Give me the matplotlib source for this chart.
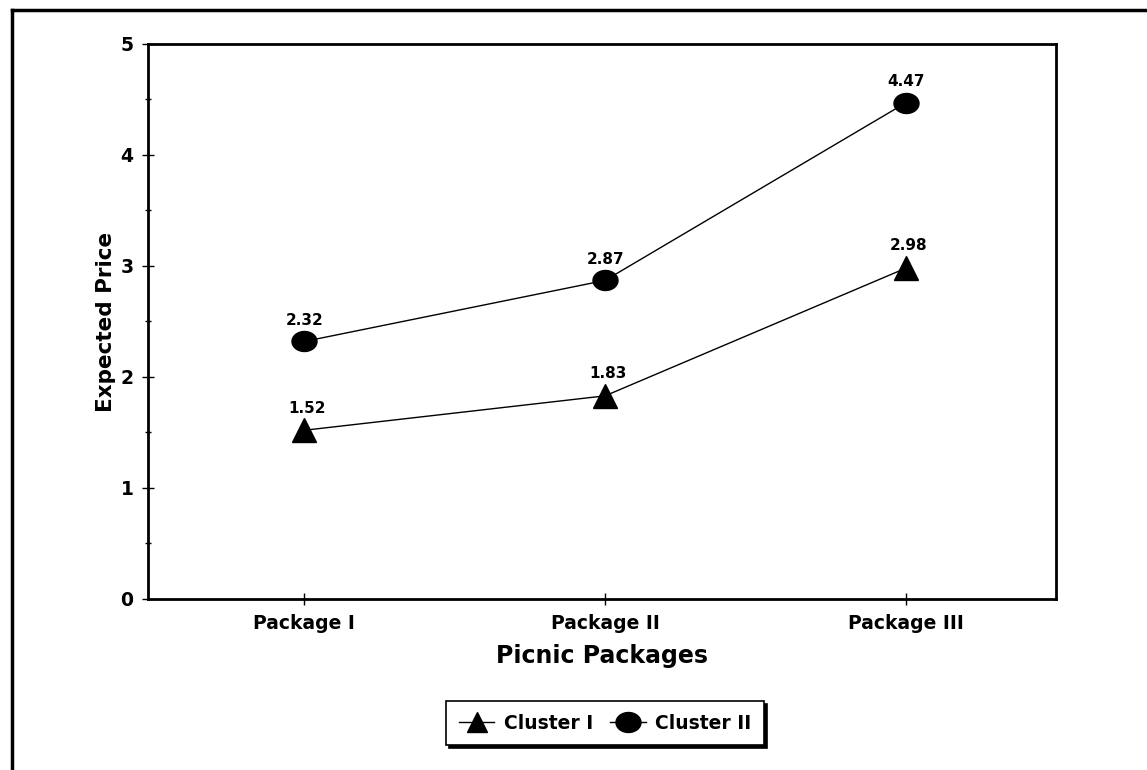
import numpy as np
import matplotlib.pyplot as plt
from matplotlib.path import Path
from matplotlib.transforms import Affine2D
from matplotlib.lines import Line2D

packages = ['Package I', 'Package II', 'Package III']
cluster1 = [1.52, 1.83, 2.98]
cluster2 = [2.32, 2.87, 4.47]
labels1 = ['1.52', '1.83', '2.98']
labels2 = ['2.32', '2.87', '4.47']

plt.rcParams['font.family'] = ['DejaVu Sans']
plt.rcParams['font.weight'] = 'bold'

# slightly wide ellipse marker like the scan
ellipse = Path.unit_circle().transformed(Affine2D().scale(1.25, 1.0))

fig = plt.figure(figsize=(11.47, 7.7), dpi=100)
ax = fig.add_axes([0.129, 0.2221, 0.7918, 0.7208])

x = np.arange(len(packages))
ax.plot(x, cluster1, color='black', lw=1, marker='^', markersize=17, zorder=3)
ax.plot(x, cluster2, color='black', lw=1, marker=ellipse, markersize=18, zorder=3)

for xi, v, t in zip(x, cluster1, labels1):
    ax.annotate(t, (xi, v), xytext=(2, 16), textcoords='offset points',
                ha='center', va='center', fontsize=11, fontweight='bold')
for xi, v, t in zip(x, cluster2, labels2):
    ax.annotate(t, (xi, v), xytext=(0, 15), textcoords='offset points',
                ha='center', va='center', fontsize=11, fontweight='bold')

ax.set_xlim(-0.52, 2.5)
ax.set_ylim(0, 5)
ax.set_xticks(x)
ax.set_xticklabels(packages, fontsize=13.5, fontweight='bold')
ax.set_yticks([0, 1, 2, 3, 4, 5])
ax.set_yticklabels(['0', '1', '2', '3', '4', '5'], fontsize=13.5, fontweight='bold')
ax.set_yticks(np.arange(0.5, 5, 1), minor=True)
ax.tick_params(axis='both', which='major', direction='inout', length=9, width=1, pad=6)
ax.tick_params(axis='y', which='minor', direction='inout', length=5, width=1)
for s in ax.spines.values():
    s.set_linewidth(2)

ax.set_xlabel('Picnic Packages', fontsize=17, fontweight='bold', labelpad=8)
ax.set_ylabel('Expected Price', fontsize=15.5, fontweight='bold', labelpad=3)

h1 = Line2D([], [], color='black', lw=1, marker='^', markersize=15)
h2 = Line2D([], [], color='black', lw=1, marker=ellipse, markersize=18)
leg = fig.legend([h1, h2], ['Cluster I', 'Cluster II'], loc='center',
                 bbox_to_anchor=(0.5275, 0.061), ncol=2, frameon=True,
                 fancybox=False, shadow={'color': 'black', 'alpha': 1},
                 handlelength=1.9, handletextpad=0.5, columnspacing=0.9,
                 prop={'size': 13.5, 'weight': 'bold'}, borderpad=0.68,
                 borderaxespad=0)
leg.get_frame().set_edgecolor('black')
leg.get_frame().set_linewidth(1.2)

# outer frame (left and top edges visible in the scan)
fig.add_artist(Line2D([12 / 1147, 12 / 1147], [0, 1 - 10 / 770], color='black', lw=2.5,
                      transform=fig.transFigure))
fig.add_artist(Line2D([12 / 1147, 1], [1 - 10 / 770, 1 - 10 / 770], color='black', lw=2.5,
                      transform=fig.transFigure))

fig.savefig('out.png', dpi=100)
